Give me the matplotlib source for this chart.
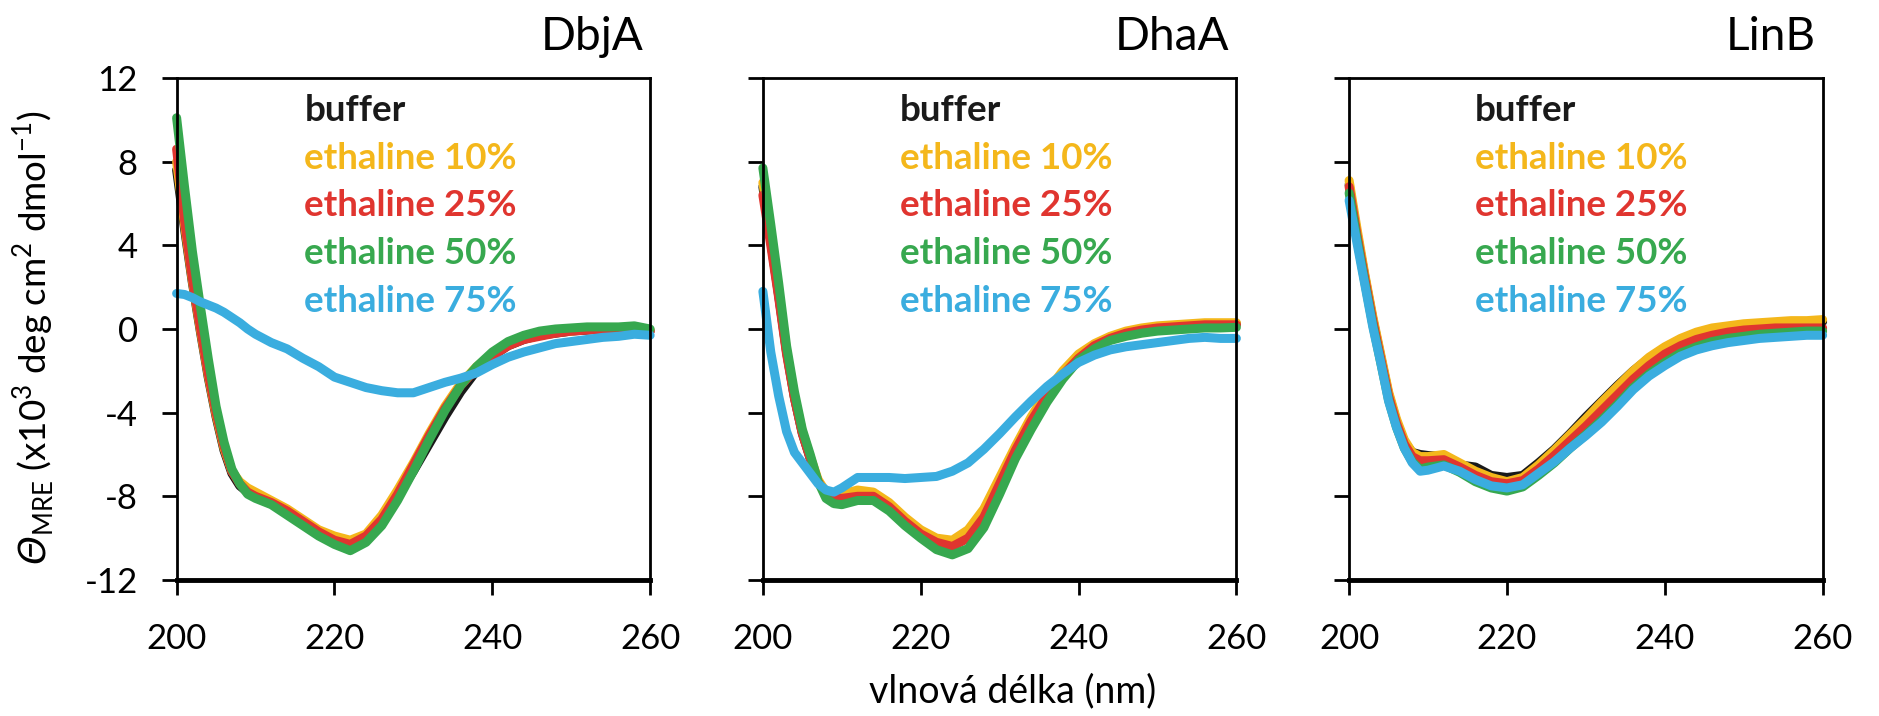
import matplotlib
matplotlib.use('Agg')
from matplotlib import pyplot as plt
import numpy as np

plt.rcParams['font.family'] = ['Lato', 'DejaVu Sans']
plt.rcParams['axes.unicode_minus'] = False
plt.rcParams['mathtext.fontset'] = 'custom'
plt.rcParams['mathtext.rm'] = 'Lato'
plt.rcParams['mathtext.cal'] = 'DejaVu Sans:italic'

# vlnova delka (nm)
wl = [200, 201, 202, 203, 204, 205, 206, 207, 208, 209, 210,
      212, 214, 216, 218, 220, 222, 224, 226, 228, 230, 232, 234, 236, 238,
      240, 242, 244, 246, 248, 250, 252, 254, 256, 258, 260]

labels = ['buffer', 'ethaline 10%', 'ethaline 25%', 'ethaline 50%', 'ethaline 75%']
colors = ['#1a1a1a', '#F4B71B', '#E0352F', '#37A84F', '#3AADDF']
panels = ['DbjA', 'DhaA', 'LinB']

# DbjA
dbja_buffer = [7.6, 4.8, 2.2, -0.1, -2.3, -4.2, -5.8, -6.9, -7.5, -7.8, -8.0,
               -8.3, -8.7, -9.2, -9.7, -10.0, -10.2, -9.9, -9.1, -8.0, -6.8, -5.5, -4.2, -3.0, -2.0,
               -1.3, -0.8, -0.5, -0.3, -0.2, -0.1, -0.05, 0.0, 0.0, 0.0, -0.1]
dbja_10 = [8.0, 5.0, 2.3, 0.0, -2.2, -4.1, -5.7, -6.8, -7.3, -7.6, -7.8,
           -8.2, -8.6, -9.1, -9.6, -9.9, -10.1, -9.8, -8.9, -7.7, -6.4, -5.0, -3.7, -2.6, -1.8,
           -1.2, -0.75, -0.45, -0.3, -0.15, -0.1, 0.0, 0.0, 0.05, 0.05, -0.05]
dbja_25 = [8.6, 5.2, 2.4, 0.1, -2.1, -4.0, -5.6, -6.8, -7.4, -7.8, -8.0,
           -8.3, -8.7, -9.2, -9.7, -10.1, -10.3, -9.9, -9.1, -7.9, -6.5, -5.1, -3.8, -2.7, -1.9,
           -1.3, -0.8, -0.5, -0.35, -0.2, -0.1, -0.05, 0.0, 0.0, 0.05, -0.1]
dbja_50 = [10.1, 6.8, 3.7, 1.1, -1.4, -3.7, -5.4, -6.7, -7.4, -7.9, -8.1,
           -8.4, -8.9, -9.4, -9.9, -10.3, -10.6, -10.2, -9.4, -8.2, -6.8, -5.3, -3.9, -2.7, -1.8,
           -1.1, -0.6, -0.3, -0.1, 0.0, 0.05, 0.1, 0.1, 0.1, 0.15, 0.0]
dbja_75 = [1.7, 1.65, 1.5, 1.3, 1.15, 1.0, 0.8, 0.55, 0.3, 0.0, -0.25,
           -0.65, -0.95, -1.4, -1.8, -2.3, -2.55, -2.8, -2.95, -3.05, -3.05, -2.8, -2.55, -2.35, -2.1,
           -1.7, -1.35, -1.1, -0.9, -0.7, -0.6, -0.5, -0.4, -0.35, -0.25, -0.3]

# DhaA
dhaa_buffer = [6.8, 4.2, 1.6, -1.1, -3.3, -5.0, -6.2, -7.3, -7.9, -8.0, -8.0,
               -7.9, -7.9, -8.4, -9.1, -9.7, -10.1, -10.3, -9.8, -8.8, -7.3, -5.7, -4.3, -3.1, -2.1,
               -1.3, -0.75, -0.4, -0.15, 0.0, 0.1, 0.15, 0.2, 0.2, 0.25, 0.25]
dhaa_10 = [7.0, 4.4, 1.8, -1.0, -3.2, -4.9, -6.1, -7.2, -7.8, -7.9, -7.9,
           -7.7, -7.8, -8.3, -9.0, -9.6, -10.0, -10.1, -9.6, -8.6, -7.1, -5.6, -4.2, -3.0, -2.0,
           -1.2, -0.7, -0.35, -0.1, 0.05, 0.15, 0.2, 0.25, 0.3, 0.3, 0.3]
dhaa_25 = [6.4, 4.0, 1.5, -1.2, -3.3, -5.0, -6.2, -7.3, -7.9, -8.1, -8.1,
           -8.0, -8.0, -8.5, -9.2, -9.8, -10.2, -10.4, -10.0, -9.0, -7.4, -5.8, -4.4, -3.2, -2.2,
           -1.4, -0.8, -0.45, -0.2, -0.05, 0.05, 0.1, 0.15, 0.2, 0.2, 0.2]
dhaa_50 = [7.7, 5.0, 2.2, -0.8, -3.0, -4.8, -6.0, -7.3, -8.1, -8.35, -8.4,
           -8.2, -8.2, -8.7, -9.4, -10.0, -10.55, -10.8, -10.5, -9.5, -7.9, -6.2, -4.8, -3.5, -2.4,
           -1.5, -0.95, -0.55, -0.35, -0.2, -0.1, -0.05, 0.0, 0.05, 0.05, 0.08]
dhaa_75 = [1.8, -1.1, -3.2, -4.9, -5.9, -6.4, -6.9, -7.4, -7.7, -7.8, -7.6,
           -7.1, -7.1, -7.1, -7.15, -7.1, -7.05, -6.8, -6.4, -5.75, -5.0, -4.2, -3.45, -2.75, -2.15,
           -1.6, -1.25, -1.0, -0.85, -0.75, -0.65, -0.55, -0.45, -0.4, -0.45, -0.45]

# LinB
linb_buffer = [6.9, 4.6, 2.5, 0.5, -1.3, -3.1, -4.4, -5.4, -5.9, -6.0, -6.05,
               -6.1, -6.5, -6.6, -7.0, -7.1, -7.0, -6.4, -5.75, -5.0, -4.2, -3.45, -2.7, -2.0, -1.4,
               -0.9, -0.5, -0.2, 0.0, 0.1, 0.2, 0.25, 0.3, 0.3, 0.35, 0.35]
linb_10 = [7.1, 4.8, 2.6, 0.6, -1.2, -3.0, -4.3, -5.3, -5.9, -6.1, -6.1,
           -6.0, -6.4, -6.8, -7.1, -7.3, -7.1, -6.5, -5.8, -5.05, -4.3, -3.5, -2.75, -2.0, -1.35,
           -0.85, -0.45, -0.15, 0.05, 0.15, 0.25, 0.3, 0.35, 0.4, 0.4, 0.45]
linb_25 = [6.8, 4.5, 2.4, 0.4, -1.4, -3.2, -4.5, -5.5, -6.1, -6.3, -6.3,
           -6.25, -6.6, -7.0, -7.3, -7.4, -7.25, -6.7, -6.05, -5.35, -4.65, -3.9, -3.15, -2.4, -1.75,
           -1.2, -0.8, -0.5, -0.3, -0.15, -0.05, 0.0, 0.05, 0.05, 0.05, 0.05]
linb_50 = [6.5, 4.3, 2.2, 0.2, -1.6, -3.4, -4.7, -5.7, -6.35, -6.7, -6.6,
           -6.5, -6.85, -7.3, -7.6, -7.75, -7.55, -7.0, -6.4, -5.7, -5.05, -4.35, -3.6, -2.8, -2.15,
           -1.6, -1.15, -0.85, -0.6, -0.45, -0.35, -0.25, -0.2, -0.15, -0.1, -0.1]
linb_75 = [6.15, 4.1, 2.1, 0.1, -1.6, -3.45, -4.7, -5.7, -6.4, -6.8, -6.75,
           -6.55, -6.8, -7.2, -7.5, -7.6, -7.45, -6.9, -6.35, -5.7, -5.1, -4.45, -3.7, -2.9, -2.25,
           -1.75, -1.3, -1.0, -0.8, -0.65, -0.55, -0.45, -0.4, -0.35, -0.3, -0.3]

data = {
    'DbjA': [dbja_buffer, dbja_10, dbja_25, dbja_50, dbja_75],
    'DhaA': [dhaa_buffer, dhaa_10, dhaa_25, dhaa_50, dhaa_75],
    'LinB': [linb_buffer, linb_10, linb_25, linb_50, linb_75],
}

fig = plt.figure(figsize=(18.79, 7.16), dpi=100)
lefts = [0.094, 0.406, 0.718]
legend_x = [0.27, 0.29, 0.265]

for i, name in enumerate(panels):
    ax = fig.add_axes([lefts[i], 0.190, 0.252, 0.701])
    for y, c in zip(data[name], colors):
        ax.plot(wl, y, color=c, lw=6.5, solid_capstyle='round',
                solid_joinstyle='round', clip_on=False)
    ax.set_xlim(200, 260)
    ax.set_ylim(-12, 12)
    ax.set_xticks([200, 220, 240, 260])
    ax.set_yticks([-12, -8, -4, 0, 4, 8, 12])
    ax.tick_params(direction='out', length=11, width=2, labelsize=25, pad=17)
    ax.tick_params(axis='x', pad=20)
    if i > 0:
        ax.set_yticklabels([])
    for s in ['left', 'top', 'right']:
        ax.spines[s].set_linewidth(2)
    ax.spines['bottom'].set_linewidth(3.5)
    ax.text(0.985, 1.056, name, transform=ax.transAxes, ha='right',
            va='baseline', fontsize=33)
    # barevna legenda jako text
    for k, (lab, c) in enumerate(zip(labels, colors)):
        ax.text(legend_x[i], 0.915 - k * 0.0954, lab, color=c, fontsize=26.5,
                fontweight='bold', transform=ax.transAxes, va='baseline')

fig.text(0.018, 0.528,
         r'$\mathcal{Θ}_{\mathregular{MRE}}$ (x10$^{3}$ deg cm$^{2}$ dmol$^{-1}$)',
         rotation=90, ha='center', va='center', fontsize=26.5)
fig.text(0.539, 0.034, 'vlnová délka (nm)', ha='center', va='center', fontsize=27)

fig.savefig('out.png', dpi=100)
